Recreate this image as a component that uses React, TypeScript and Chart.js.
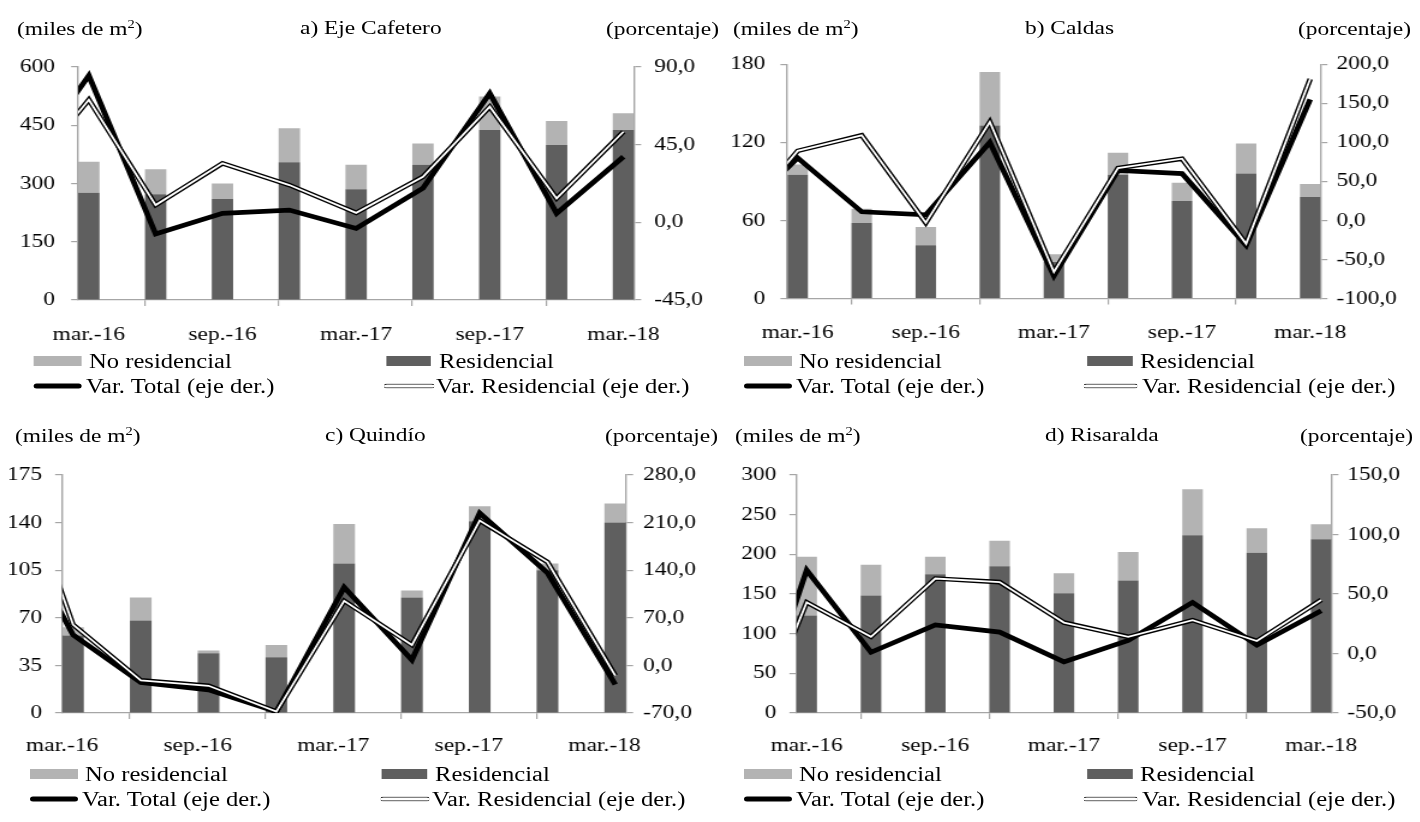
import React, { useEffect, useRef } from 'react';
import { Chart, registerables } from 'chart.js';

Chart.register(...registerables);

// ---------------- data ----------------
const categories = ['mar.-16', 'jun.-16', 'sep.-16', 'dic.-16', 'mar.-17', 'jun.-17', 'sep.-17', 'dic.-17', 'mar.-18'];
const xTickIndex = [0, 2, 4, 6, 8];
const xTickLabels = ['mar.-16', 'sep.-16', 'mar.-17', 'sep.-17', 'mar.-18'];

// a) Eje Cafetero
const residencialA = [276, 272, 260, 355, 285, 348, 438, 399, 438];
const noResidencialA = [80, 65, 40, 87, 63, 55, 86, 62, 43];
const varTotalA = [85, -6.8, 5.2, 7.1, -3.5, 19.8, 74.7, 5.2, 38];
const varResidencialA = [71, 10, 34.2, 21.6, 5.5, 26.4, 67, 13.9, 52.5];
const varTotalPrevA = 31; // dic.-15
const varResidencialPrevA = 24; // dic.-15
const leftTicksA = [0, 150, 300, 450, 600];
const rightTicksA = [-45, 0, 45, 90];

// b) Caldas
const residencialB = [95, 58, 41, 133, 28, 95, 75, 96, 78];
const noResidencialB = [8, 11, 14, 41, 6, 17, 14, 23, 10];
const varTotalB = [80, 11, 7, 100, -71, 64, 60, -32, 155];
const varResidencialB = [89, 109, -3, 126, -66, 67, 79, -30, 181];
const varTotalPrevB = 0;
const varResidencialPrevB = -7;
const leftTicksB = [0, 60, 120, 180];
const rightTicksB = [-100, -50, 0, 50, 100, 150, 200];

// c) Quindío
const residencialC = [57, 68, 44, 41, 110, 85, 141, 105, 140];
const noResidencialC = [6, 17, 2, 9, 29, 5, 11, 5, 14];
const varTotalC = [45, -25, -36, -68, 115, 8, 224, 136, -28];
const varResidencialC = [60, -22, -30, -68, 95, 30, 213, 152, -15];
const varTotalPrevC = 230;
const varResidencialPrevC = 340;
const leftTicksC = [0, 35, 70, 105, 140, 175];
const rightTicksC = [-70, 0, 70, 140, 210, 280];

// d) Risaralda
const residencialD = [123, 148, 175, 185, 151, 167, 224, 202, 219];
const noResidencialD = [74, 39, 22, 32, 25, 36, 58, 31, 19];
const varTotalD = [70, 1, 24, 18, -7, 11, 43, 7, 36];
const varResidencialD = [43, 14, 63, 60, 26, 14, 28, 10.5, 45];
const varTotalPrevD = -90;
const varResidencialPrevD = -90;
const leftTicksD = [0, 50, 100, 150, 200, 250, 300];
const rightTicksD = [-50, 0, 50, 100, 150];

// ---------------- style / layout ----------------
const SX = 1.2; // horizontal stretch of the whole figure
const FONT = "'Liberation Serif', 'Times New Roman', serif";
const FS = 19.5;
const LEG_FS = 20.5;
const AXIS = '#a6a6a6';
const LIGHT = '#b3b3b3';
const DARK = '#5f5f5f';
const BAR = 0.32; // bar width in category units

type Layout = {
  boxL: number; boxT: number; boxW: number; boxH: number;
  plotL: number; plotR: number; plotT: number; plotB: number;
  gapL: number; gapR: number; xPad: number; labelShift: number; clipL?: number;
};

const panels: any[] = [
  {
    key: 'a', title: 'a) Eje Cafetero',
    res: residencialA, noRes: noResidencialA, tot: varTotalA, rv: varResidencialA,
    totPrev: varTotalPrevA, rvPrev: varResidencialPrevA, lt: leftTicksA, rt: rightTicksA,
    L: { boxL: 0, boxT: 40, boxW: 710, boxH: 320, plotL: 78, plotR: 633, plotT: 67, plotB: 300, gapL: 23, gapR: 20, xPad: 17, labelShift: 1 },
    txt: { unitsX: 17, titleX: 300, pctX: 606, y: 29 },
    leg: { rows: [361, 386], a: 34, aw: 48, at: 89, b: 386, bw: 45, bt: 439, c: 34, cw: 48, ct: 86, d: 384, dw: 50, dt: 436 },
  },
  {
    key: 'b', title: 'b) Caldas',
    res: residencialB, noRes: noResidencialB, tot: varTotalB, rv: varResidencialB,
    totPrev: varTotalPrevB, rvPrev: varResidencialPrevB, lt: leftTicksB, rt: rightTicksB,
    L: { boxL: 710, boxT: 40, boxW: 710, boxH: 320, plotL: 787, plotR: 1320, plotT: 64, plotB: 298.5, gapL: 22, gapR: 16, xPad: 17, labelShift: 1 },
    txt: { unitsX: 733, titleX: 1025, pctX: 1298, y: 29 },
    leg: { rows: [361, 386], a: 744, aw: 48, at: 799, b: 1087, bw: 46, bt: 1140, c: 744, cw: 48, ct: 796, d: 1083, dw: 55, dt: 1142 },
  },
  {
    key: 'c', title: 'c) Quindío',
    res: residencialC, noRes: noResidencialC, tot: varTotalC, rv: varResidencialC,
    totPrev: varTotalPrevC, rvPrev: varResidencialPrevC, lt: leftTicksC, rt: rightTicksC,
    L: { boxL: -24, boxT: 445, boxW: 734, boxH: 330, plotL: 62, plotR: 625, plotT: 475, plotB: 713, gapL: 20, gapR: 17, xPad: 15, labelShift: 0, clipL: 10 },
    txt: { unitsX: 15, titleX: 325, pctX: 605, y: 436 },
    leg: { rows: [774, 799], a: 30, aw: 48, at: 85, b: 382, bw: 45, bt: 435, c: 30, cw: 48, ct: 82, d: 380, dw: 50, dt: 432 },
  },
  {
    key: 'd', title: 'd) Risaralda',
    res: residencialD, noRes: noResidencialD, tot: varTotalD, rv: varResidencialD,
    totPrev: varTotalPrevD, rvPrev: varResidencialPrevD, lt: leftTicksD, rt: rightTicksD,
    L: { boxL: 710, boxT: 445, boxW: 710, boxH: 330, plotL: 796, plotR: 1331, plotT: 475, plotB: 713, gapL: 20, gapR: 16, xPad: 15, labelShift: 1 },
    txt: { unitsX: 735, titleX: 1045, pctX: 1300, y: 436 },
    leg: { rows: [774, 799], a: 744, aw: 48, at: 799, b: 1087, bw: 46, bt: 1140, c: 744, cw: 48, ct: 796, d: 1083, dw: 55, dt: 1142 },
  },
];

const fmtPct = (v: number) => v.toFixed(1).replace('.', ',');

function PanelChart({ p }: { p: any }) {
  const ref = useRef<HTMLCanvasElement | null>(null);
  useEffect(() => {
    const L: Layout = p.L;
    const leftW = (L.plotL - L.boxL) / SX;
    const rightW = (L.boxL + L.boxW - L.plotR) / SX;
    const padTop = L.plotT - L.boxT;
    const xH = L.boxT + L.boxH - L.plotB;
    const unitPx = (L.plotR - L.plotL) / SX / (categories.length - 1 + BAR);
    const half = BAR / 2;
    const tickLenY = 7 / SX;
    const font = { family: FONT, size: FS };
    const pts = (prev: number, vals: number[]) => [{ x: -1, y: prev }, ...vals.map((v, i) => ({ x: i, y: v }))];
    const barPts = (vals: number[]) => vals.map((v, i) => ({ x: i, y: v }));
    const lineCommon = { type: 'line', yAxisID: 'y2', xAxisID: 'x', pointRadius: 0, pointHoverRadius: 0, clip: 0, tension: 0, fill: false };
    const chart = new Chart(ref.current as HTMLCanvasElement, {
      type: 'bar',
      data: {
        datasets: [
          { type: 'bar', label: 'Residencial', data: barPts(p.res), backgroundColor: DARK, borderWidth: 0, yAxisID: 'y', xAxisID: 'x', order: 10, categoryPercentage: BAR, barPercentage: 1 },
          { type: 'bar', label: 'No residencial', data: barPts(p.noRes), backgroundColor: LIGHT, borderWidth: 0, yAxisID: 'y', xAxisID: 'x', order: 10, categoryPercentage: BAR, barPercentage: 1 },
          { ...lineCommon, label: 'Var. Total (eje der.)', data: pts(p.totPrev, p.tot), borderColor: '#000', borderWidth: 4.7, order: 3 },
          { ...lineCommon, label: 'Var. Residencial (eje der.)', data: pts(p.rvPrev, p.rv), borderColor: '#000', borderWidth: 4.6, order: 2 },
          { ...lineCommon, label: 'Var. Residencial (centro)', data: pts(p.rvPrev, p.rv), borderColor: '#fff', borderWidth: 1.8, order: 1 },
        ] as any,
      },
      options: {
        animation: false,
        responsive: true,
        maintainAspectRatio: false,
        events: [],
        layout: { padding: { top: padTop, left: 0, right: 0, bottom: 0 } },
        plugins: { legend: { display: false }, tooltip: { enabled: false }, title: { display: false } },
        scales: {
          x: {
            type: 'linear', min: -half, max: categories.length - 1 + half, stacked: true, offset: false,
            afterBuildTicks: (s: any) => { s.ticks = xTickIndex.map((i) => ({ value: i - half })); },
            afterFit: (s: any) => { s.height = xH; },
            ticks: {
              callback: (_v: any, i: number) => xTickLabels[i],
              labelOffset: half * unitPx * L.labelShift, maxRotation: 0, minRotation: 0, autoSkip: false,
              font, color: '#000', padding: L.xPad,
            },
            grid: { drawOnChartArea: false, drawTicks: true, tickLength: 6, color: AXIS, lineWidth: 1.2 },
            border: { display: true, color: AXIS, width: 1.2 },
          },
          y: {
            position: 'left', stacked: true, min: p.lt[0], max: p.lt[p.lt.length - 1],
            afterBuildTicks: (s: any) => { s.ticks = p.lt.map((v: number) => ({ value: v })); },
            afterFit: (s: any) => { s.width = leftW; },
            ticks: { callback: (v: any) => String(v), font, color: '#000', padding: L.gapL / SX - tickLenY, autoSkip: false },
            grid: { drawOnChartArea: false, drawTicks: true, tickLength: tickLenY, color: AXIS, lineWidth: 1.2 },
            border: { display: true, color: AXIS, width: 1.4 },
          },
          y2: {
            position: 'right', stacked: false, min: p.rt[0], max: p.rt[p.rt.length - 1],
            afterBuildTicks: (s: any) => { s.ticks = p.rt.map((v: number) => ({ value: v })); },
            afterFit: (s: any) => { s.width = rightW; },
            ticks: { callback: (v: any) => fmtPct(Number(v)), font, color: '#000', padding: L.gapR / SX - tickLenY, autoSkip: false },
            grid: { drawOnChartArea: false, drawTicks: true, tickLength: tickLenY, color: AXIS, lineWidth: 1.2 },
            border: { display: true, color: AXIS, width: 1.4 },
          },
        },
      } as any,
    });
    return () => chart.destroy();
  }, [p]);

  const L: Layout = p.L;
  const box = (
    <div style={{ position: 'absolute', left: (L.boxL - (L.clipL ?? 0)) / SX, top: L.boxT, width: L.boxW / SX, height: L.boxH }}>
      <canvas ref={ref} />
    </div>
  );
  if (L.clipL !== undefined) {
    return (
      <div style={{ position: 'absolute', left: L.clipL / SX, top: 0, width: (710 - L.clipL) / SX, height: 822, overflow: 'hidden' }}>
        {box}
      </div>
    );
  }
  return box;
}

const textStyle = (x: number, y: number, size: number = FS): React.CSSProperties => ({
  position: 'absolute', left: x / SX, top: y, transform: 'translateY(-50%)',
  fontFamily: FONT, fontSize: size, lineHeight: 1, whiteSpace: 'nowrap', color: '#000',
});

function Texts({ p }: { p: any }) {
  const t = p.txt;
  return (
    <>
      <div style={textStyle(t.unitsX, t.y)}>
        (miles de m<span style={{ fontSize: '0.62em', position: 'relative', top: '-0.62em' }}>2</span>)
      </div>
      <div style={textStyle(t.titleX, t.y - 1)}>{p.title}</div>
      <div style={textStyle(t.pctX, t.y)}>(porcentaje)</div>
    </>
  );
}

function Legend({ p }: { p: any }) {
  const g = p.leg;
  const [r1, r2] = g.rows;
  const sw = (x: number, w: number, y: number, style: React.CSSProperties) => (
    <div style={{ position: 'absolute', left: x / SX, width: w / SX, top: y, transform: 'translateY(-50%)', boxSizing: 'border-box', ...style }} />
  );
  return (
    <>
      {sw(g.a, g.aw, r1, { height: 10, background: LIGHT })}
      <div style={textStyle(g.at, r1, LEG_FS)}>No residencial</div>
      {sw(g.b, g.bw, r1, { height: 10, background: DARK })}
      <div style={textStyle(g.bt, r1, LEG_FS)}>Residencial</div>
      {sw(g.c, g.cw, r2, { height: 5, background: '#000', borderRadius: 2.5 })}
      <div style={textStyle(g.ct, r2, LEG_FS)}>Var. Total (eje der.)</div>
      {sw(g.d, g.dw, r2, { height: 5, background: '#fff', borderTop: '1.6px solid #000', borderBottom: '1.6px solid #000', borderRadius: 2.5 })}
      <div style={textStyle(g.dt, r2, LEG_FS)}>Var. Residencial (eje der.)</div>
    </>
  );
}

export default function App() {
  return (
    <div style={{ position: 'fixed', left: 0, top: 0, width: 1420, height: 822, background: '#fff', overflow: 'hidden' }}>
      <div style={{ position: 'absolute', left: 0, top: 0, width: 1420 / SX, height: 822, transform: `scaleX(${SX})`, transformOrigin: '0 0' }}>
        {panels.map((p) => (
          <React.Fragment key={p.key}>
            <PanelChart p={p} />
            <Texts p={p} />
            <Legend p={p} />
          </React.Fragment>
        ))}
      </div>
    </div>
  );
}
